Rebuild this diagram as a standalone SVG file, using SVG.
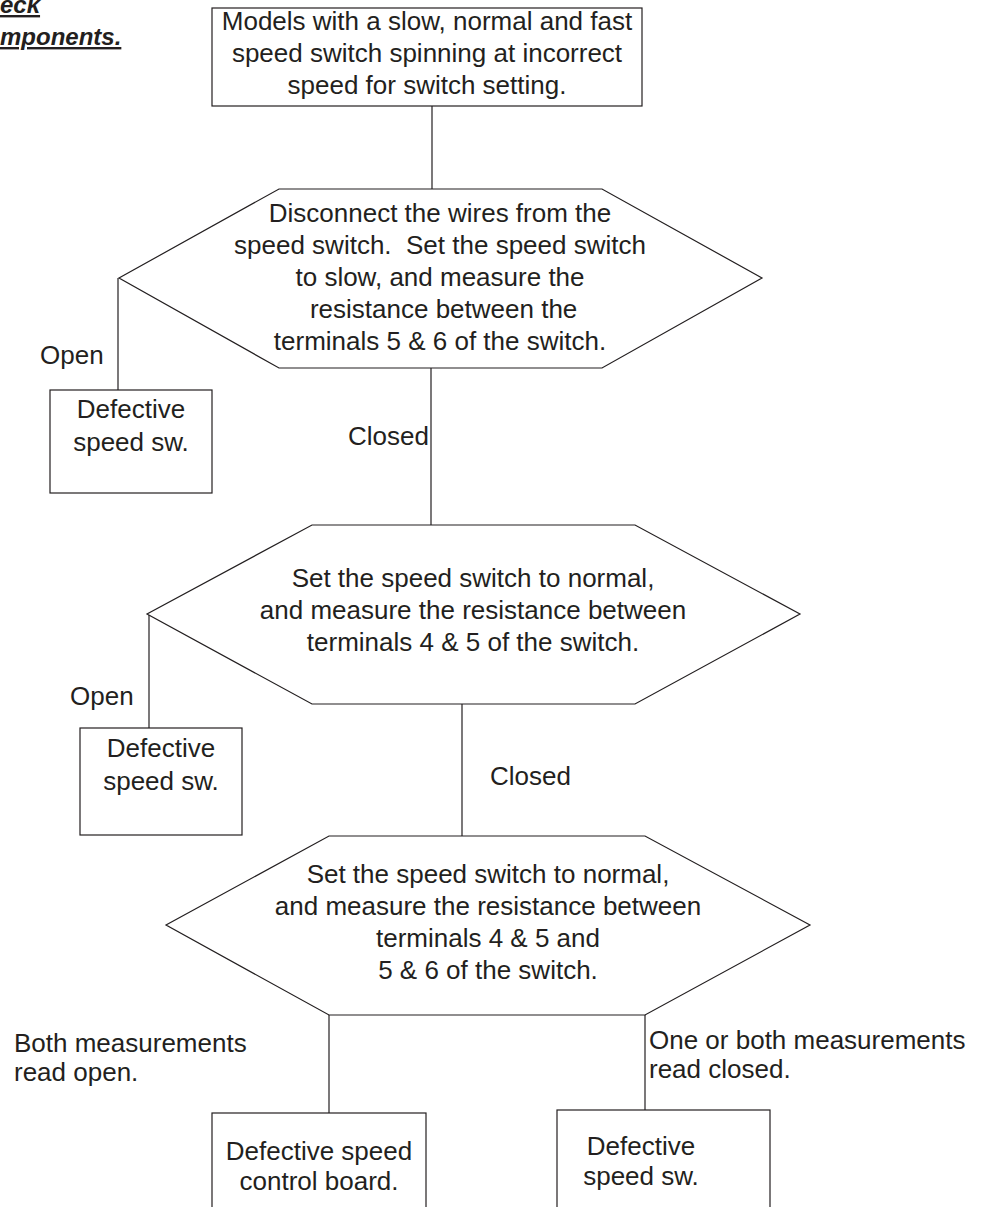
<svg xmlns="http://www.w3.org/2000/svg" width="1007" height="1207" viewBox="0 0 1007 1207">
<style>
.bg{fill:#ffffff}
.shape{fill:#ffffff;stroke:#231f20;stroke-width:1.2}
.conn line{stroke:#231f20;stroke-width:1.2}
text{font-family:"Liberation Sans",Arial,sans-serif;font-size:26px;fill:#231f20;white-space:pre}
.c{text-anchor:middle}
.title{font-weight:bold;font-style:italic;font-size:24px;text-decoration:underline}
</style>
<rect class="bg" x="0" y="0" width="1007" height="1207"/>
<g id="title">
<text class="title" x="0" y="13">eck</text>
<text class="title" x="0" y="45">mponents.</text>
</g>
<g class="conn" id="connectors">
<line x1="432" y1="106" x2="432" y2="189"/>
<line x1="118" y1="278" x2="118" y2="390"/>
<line x1="431" y1="368" x2="431" y2="525"/>
<line x1="149" y1="614" x2="149" y2="728"/>
<line x1="462" y1="704" x2="462" y2="836"/>
<line x1="329" y1="1015" x2="329" y2="1113"/>
<line x1="645" y1="1015" x2="645" y2="1110"/>
<text x="40" y="364">Open</text>
<text x="348" y="445">Closed</text>
<text x="70" y="705">Open</text>
<text x="490" y="785">Closed</text>
<text x="14" y="1052">Both measurements</text>
<text x="14" y="1081">read open.</text>
<text x="649" y="1049">One or both measurements</text>
<text x="649" y="1078">read closed.</text>
</g>
<g id="start">
<rect class="shape" x="212" y="8" width="430" height="98"/>
<text class="c" x="427" y="30">Models with a slow, normal and fast</text>
<text class="c" x="427" y="62">speed switch spinning at incorrect</text>
<text class="c" x="427" y="94">speed for switch setting.</text>
</g>
<g id="check1">
<polygon class="shape" points="279,189 602,189 762,278 602,368 279,368 119,278"/>
<text class="c" x="440" y="222">Disconnect the wires from the</text>
<text class="c" x="440" y="254">speed switch.  Set the speed switch</text>
<text class="c" x="440" y="286">to slow, and measure the</text>
<text class="c" x="440" y="318"> resistance between the</text>
<text class="c" x="440" y="350">terminals 5 &amp; 6 of the switch.</text>
</g>
<g id="defective1">
<rect class="shape" x="50" y="390" width="162" height="103"/>
<text class="c" x="131" y="418">Defective</text>
<text class="c" x="131" y="451">speed sw.</text>
</g>
<g id="check2">
<polygon class="shape" points="312,525 635,525 800,614 635,704 312,704 147,614"/>
<text class="c" x="473" y="587">Set the speed switch to normal,</text>
<text class="c" x="473" y="619">and measure the resistance between</text>
<text class="c" x="473" y="651">terminals 4 &amp; 5 of the switch.</text>
</g>
<g id="defective2">
<rect class="shape" x="80" y="728" width="162" height="107"/>
<text class="c" x="161" y="757">Defective</text>
<text class="c" x="161" y="790">speed sw.</text>
</g>
<g id="check3">
<polygon class="shape" points="329,836 645,836 810,925 645,1015 329,1015 166,925"/>
<text class="c" x="488" y="883">Set the speed switch to normal,</text>
<text class="c" x="488" y="915">and measure the resistance between</text>
<text class="c" x="488" y="947">terminals 4 &amp; 5 and</text>
<text class="c" x="488" y="979">5 &amp; 6 of the switch.</text>
</g>
<g id="board">
<rect class="shape" x="212" y="1113" width="214" height="110"/>
<text class="c" x="319" y="1160">Defective speed</text>
<text class="c" x="319" y="1190">control board.</text>
</g>
<g id="defective3">
<rect class="shape" x="557" y="1110" width="213" height="110"/>
<text class="c" x="641" y="1155">Defective</text>
<text class="c" x="641" y="1185">speed sw.</text>
</g>
</svg>
